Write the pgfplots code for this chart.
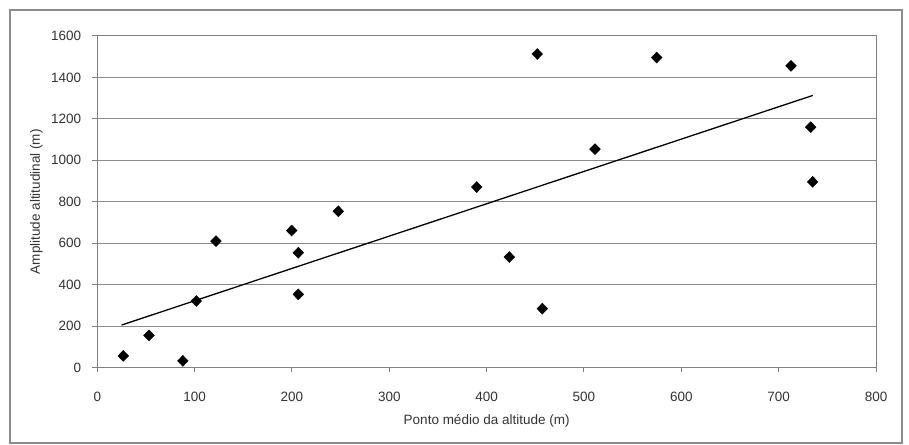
\documentclass[border=0pt]{standalone}
\usepackage{fontspec}
\setmainfont{Liberation Sans}
\usepackage{pgfplots}
\pgfplotsset{compat=1.18}
\begin{document}
\begin{tikzpicture}[x=1bp,y=1bp,font=\fontsize{13.5bp}{16bp}\selectfont]
\path[fill=white] (0,0) rectangle (909,445);
\draw[black!45, line width=1.2bp] (10,2) rectangle (902,435);
\begin{axis}[
  at={(97.3bp,77.5bp)}, anchor=south west,
  scale only axis, width=778.7bp, height=331.5bp,
  xmin=0, xmax=800, ymin=0, ymax=1600,
  xtick={0,100,...,800}, ytick={0,200,...,1600},
  /pgf/number format/assume math mode=true,
  /pgf/number format/1000 sep={},
  axis line style={black!50, line width=1bp},
  ymajorgrids, grid style={black!45, line width=1bp},
  tick style={black!50, line width=1bp},
  tick align=outside, major tick length=5bp,
  xtick pos=bottom, ytick pos=left,
  xticklabel style={anchor=center, inner sep=0pt, yshift=-24bp, text=black!80},
  yticklabel style={anchor=east, inner sep=0pt, xshift=-11bp, text=black!80},
  xlabel={Ponto médio da altitude (m)},
  ylabel={Amplitude altitudinal (m)},
  xlabel style={at={(axis description cs:0.5,-0.160)}, anchor=center, inner sep=0pt, text=black!80},
  ylabel style={at={(axis description cs:-0.0783,0.5)}, anchor=center, rotate=0, inner sep=0pt, text=black!80},
  clip=false,
]
\addplot[only marks, mark=diamond*, mark size=5.5bp, mark options={fill=black, draw=black, xscale=1.3}] coordinates {
(26.7,56) (53.1,155) (87.9,32) (101.7,321) (121.9,610) (199.7,661)
(206.5,554) (206.5,353) (247.6,754) (389.8,871) (423.3,533) (452,1513)
(457.2,284) (511.3,1054) (574.7,1496) (712.7,1456) (732.9,1160) (734.9,896)
};
\addplot[black, line width=1.3bp] coordinates {(25,205) (735,1313)};
\end{axis}
\end{tikzpicture}
\end{document}
